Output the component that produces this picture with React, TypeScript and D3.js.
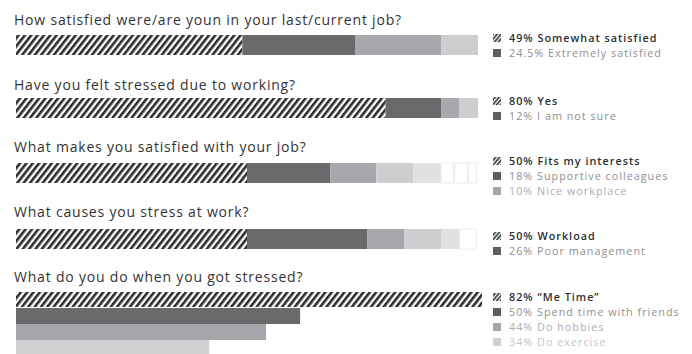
import React from "react";
import * as d3 from "d3";

const questions = [
  "How satisfied were/are youn in your last/current job?",
  "Have you felt stressed due to working?",
  "What makes you satisfied with your job?",
  "What causes you stress at work?",
  "What do you do when you got stressed?",
];

const q1Values = [49, 24.5, 18.5, 8];
const q2Values = [80, 12, 4, 4];
const q3Values = [50, 18, 10, 8, 6, 3, 3, 2];
const q4Values = [50, 26, 8, 8, 4, 4];
const q5Values = [82, 50, 44, 34];

const q1Labels = ["49% Somewhat satisfied", "24.5% Extremely satisfied"];
const q2Labels = ["80% Yes", "12% I am not sure"];
const q3Labels = ["50% Fits my interests", "18% Supportive colleagues", "10% Nice workplace"];
const q4Labels = ["50% Workload", "26% Poor management"];
const q5Labels = ["82% \u201cMe Time\u201d", "50% Spend time with friends", "44% Do hobbies", "34% Do exercise"];

const stackedValues = [q1Values, q2Values, q3Values, q4Values];
const allLabels = [q1Labels, q2Labels, q3Labels, q4Labels, q5Labels];

// layout
const W = 692;
const H = 354;
const X0 = 16;
const X1 = 478;
const questionY = [20, 85, 147, 212, 277];
const barTop = [35, 98, 163, 229, 292];
const barH = 20;
const lastBarH = 16;
const legendY = [38, 101, 161, 236, 297];
const legendStep = 15;
const legendX = 493;

const segFill = ["url(#hatch)", "#6a6a6d", "#a7a8ab", "#cdced0", "#e0e1e3", "#ffffff", "#ffffff", "#ffffff"];
const lastFill = ["url(#hatch)", "#6a6a6d", "#a5a6a9", "#cfd0d2"];
const legendTextColor = ["#2e2e30", "#8f8f92", "#adadb0", "#c4c4c6"];
const legendIconColor = ["url(#hatchSmall)", "#5f5f62", "#a5a6a9", "#cfd0d2"];

const FONT = "'Open Sans', Lato, sans-serif";

export default function App() {
  const xStack = d3.scaleLinear().domain([0, 100]).range([X0, X1]);
  const xLast = d3.scaleLinear().domain([0, d3.max(q5Values) as number]).range([X0, 482]);

  return (
    <svg width={W} height={H} style={{ position: "absolute", left: 0, top: 0, background: "#fff" }}>
      <defs>
        <pattern id="hatch" width="5" height="10" patternUnits="userSpaceOnUse" patternTransform="rotate(38)">
          <rect width="5" height="10" fill="#ffffff" />
          <rect width="2.6" height="10" fill="#2b2b2d" />
        </pattern>
        <pattern id="hatchSmall" width="3" height="10" patternUnits="userSpaceOnUse" patternTransform="rotate(40)">
          <rect width="3" height="10" fill="#ffffff" />
          <rect width="1.6" height="10" fill="#2f2f31" />
        </pattern>
      </defs>
      <rect width={W} height={H} fill="#fff" />
      {questions.map((q, i) => (
        <text
          key={q}
          x={14}
          y={questionY[i]}
          dy="0.35em"
          fontFamily={FONT}
          fontSize={14}
          fontWeight={500}
          letterSpacing={0.8}
          fill="#333335"
        >
          {q}
        </text>
      ))}
      {stackedValues.map((vals, gi) => {
        const cum = d3.cumsum(vals);
        return (
          <g key={gi}>
            {vals.map((v, si) => {
              const start = si === 0 ? 0 : cum[si - 1];
              const x = xStack(start);
              const w = xStack(start + v) - x;
              const white = segFill[si] === "#ffffff";
              return (
                <rect
                  key={si}
                  x={x}
                  y={barTop[gi]}
                  width={Math.max(0, w - (white ? 1.5 : 0))}
                  height={barH}
                  fill={segFill[si]}
                  stroke={white ? "#ececee" : "none"}
                  strokeWidth={white ? 1 : 0}
                />
              );
            })}
          </g>
        );
      })}
      {q5Values.map((v, i) => (
        <rect
          key={i}
          x={X0}
          y={barTop[4] + i * lastBarH}
          width={xLast(v) - X0}
          height={lastBarH - (i === 0 ? 1 : 0)}
          fill={lastFill[i]}
        />
      ))}
      {allLabels.map((labels, gi) => (
        <g key={gi}>
          {labels.map((lab, li) => {
            const cy = legendY[gi] + li * legendStep;
            return (
              <g key={li}>
                <rect x={legendX} y={cy - 4} width={8} height={8} fill={legendIconColor[li]} />
                <text
                  x={legendX + 16}
                  y={cy}
                  dy="0.35em"
                  fontFamily={FONT}
                  fontSize={10.8}
                  fontWeight={li === 0 ? 600 : 400}
                  letterSpacing={1.0}
                  fill={legendTextColor[li]}
                >
                  {lab}
                </text>
              </g>
            );
          })}
        </g>
      ))}
    </svg>
  );
}
